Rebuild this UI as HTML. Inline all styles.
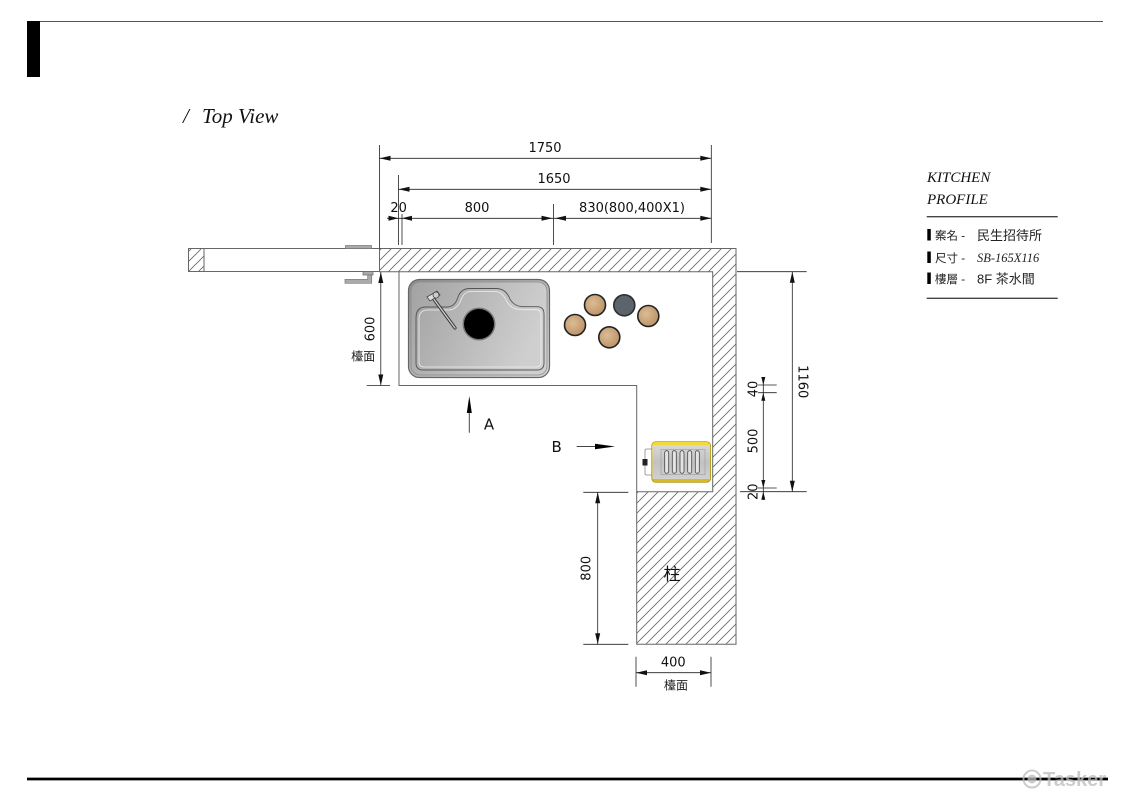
<!DOCTYPE html>
<html><head><meta charset="utf-8"><style>
html,body{margin:0;padding:0;background:#fff;}
svg{display:block;}
.d{font-family:"DejaVu Sans","Liberation Sans",sans-serif;font-size:13px;fill:#111;}
.cjk{font-family:"Liberation Sans","Noto Sans CJK TC",sans-serif;}
.ser{font-family:"Liberation Serif",serif;font-style:italic;}
</style></head><body>
<svg width="1131" height="800" viewBox="0 0 1131 800" xmlns="http://www.w3.org/2000/svg">
<defs>
<pattern id="h" patternUnits="userSpaceOnUse" width="10" height="10">
<path d="M0,10 L10,0 M-2,2 L2,-2 M8,12 L12,8" stroke="#666" stroke-width="0.8"/>
</pattern>
<linearGradient id="sg" x1="0" y1="0" x2="1" y2="1">
<stop offset="0" stop-color="#8e8e8e"/><stop offset="0.5" stop-color="#b4b4b4"/><stop offset="1" stop-color="#d6d6d6"/>
</linearGradient>
<linearGradient id="sg2" x1="0" y1="0" x2="1" y2="0.3">
<stop offset="0" stop-color="#a2a2a2"/><stop offset="1" stop-color="#cfcfcf"/>
</linearGradient>
<radialGradient id="cup" cx="0.4" cy="0.4" r="0.7">
<stop offset="0" stop-color="#dcbc94"/><stop offset="1" stop-color="#b88e62"/>
</radialGradient>
<linearGradient id="yl" x1="0" y1="0" x2="0" y2="1">
<stop offset="0" stop-color="#f4dc3a"/><stop offset="1" stop-color="#d9b81c"/>
</linearGradient>
<linearGradient id="gb" x1="0" y1="0" x2="0" y2="1">
<stop offset="0" stop-color="#d8d8d8"/><stop offset="0.5" stop-color="#c2c2c2"/><stop offset="1" stop-color="#d0d0d0"/>
</linearGradient>
</defs>

<!-- header -->
<rect x="27" y="21" width="13" height="56" fill="#000"/>
<line x1="40" y1="21.5" x2="1103" y2="21.5" stroke="#555" stroke-width="1"/>
<text x="183" y="123" class="ser" font-size="21" fill="#111">/</text>
<text x="202" y="123" class="ser" font-size="21" fill="#111">Top View</text>

<!-- footer -->
<line x1="27" y1="779" x2="1108" y2="779" stroke="#000" stroke-width="2.8"/>
<g opacity="0.75">
<circle cx="1032" cy="779" r="8.5" fill="none" stroke="#bbb" stroke-width="2"/>
<circle cx="1032" cy="779" r="4.5" fill="#bbb"/>
<text x="1043" y="786" font-family="Liberation Sans, sans-serif" font-weight="bold" font-size="20" fill="#bbb">Tasker</text>
</g>

<!-- left bar -->
<rect x="188.5" y="248.5" width="191" height="23" fill="#fff" stroke="#666" stroke-width="1"/>
<rect x="188.5" y="248.5" width="15.5" height="23" fill="url(#h)" stroke="#666" stroke-width="1"/>
<rect x="345.5" y="245.5" width="26" height="3" fill="#aaa" stroke="#777" stroke-width="0.7"/>
<rect x="363" y="271.5" width="10" height="3.5" fill="#aaa" stroke="#666" stroke-width="0.7"/>
<path d="M367.7,275 L371.7,275 L371.7,283.3 L345,283.3 L345,279.3 L367.7,279.3 Z" fill="#aaa" stroke="#777" stroke-width="0.7"/>

<!-- L counter hatch -->
<path d="M379.5,248.5 L736,248.5 L736,644.3 L636.7,644.3 L636.7,491.7 L712.7,491.7 L712.7,271.7 L379.5,271.7 Z" fill="url(#h)" stroke="#666" stroke-width="1"/>
<!-- inner area -->
<path d="M399,271.7 L399,385.5 L636.7,385.5 L636.7,491.7" fill="none" stroke="#666" stroke-width="1"/>

<!-- sink -->
<rect x="408.5" y="279.5" width="141" height="98" rx="11" fill="url(#sg)" stroke="#666" stroke-width="1.2"/>
<rect x="411" y="282" width="136" height="93" rx="9" fill="url(#sg2)" stroke="#8a8a8a" stroke-width="0.8"/>
<path d="M416,318 Q416,307 426,307 L447,307 Q455,307 458,297 Q461,288.5 470,288.5 L496,288.5 Q505,288.5 509,297 Q513,306.7 524,306.7 L537,306.7 Q544,306.7 544,314 L544,363 Q544,370 537,370 L423,370 Q416,370 416,363 Z" fill="none" stroke="#555" stroke-width="0.9"/>
<path d="M419,319 Q419,310 428,310 L448,310 Q457,310 461,300 Q464,291.5 471,291.5 L495,291.5 Q502,291.5 506,300 Q510,309.7 523,309.7 L536,309.7 Q541,309.7 541,315 L541,362 Q541,367 536,367 L424,367 Q419,367 419,362 Z" fill="none" stroke="#eee" stroke-width="0.8"/>
<circle cx="479" cy="324" r="16.5" fill="#777"/>
<circle cx="479" cy="324" r="15" fill="#000"/>
<line x1="433" y1="298" x2="455" y2="328" stroke="#333" stroke-width="3.2" stroke-linecap="round"/>
<line x1="433" y1="298" x2="455" y2="328" stroke="#ccc" stroke-width="1.4" stroke-linecap="round"/>
<path d="M427,297 L437,291 L440,295 L430,301 Z" fill="#ddd" stroke="#444" stroke-width="0.8"/>
<circle cx="436" cy="295" r="3" fill="#ccc" stroke="#444" stroke-width="0.8"/>

<!-- cups -->
<circle cx="595" cy="305" r="10.5" fill="url(#cup)" stroke="#222" stroke-width="1.6"/>
<circle cx="624.3" cy="305.3" r="10.5" fill="#5c636b" stroke="#2a2e33" stroke-width="1.6"/>
<circle cx="648.3" cy="316" r="10.5" fill="url(#cup)" stroke="#222" stroke-width="1.6"/>
<circle cx="575" cy="325" r="10.5" fill="url(#cup)" stroke="#222" stroke-width="1.6"/>
<circle cx="609.3" cy="337.3" r="10.5" fill="url(#cup)" stroke="#222" stroke-width="1.6"/>

<!-- appliance -->
<rect x="645" y="449" width="8" height="26" fill="#fff" stroke="#888" stroke-width="0.8" rx="1.5"/>
<rect x="642.5" y="459" width="5" height="6.5" fill="#222"/>
<rect x="651.7" y="441.7" width="59" height="40.6" rx="4" fill="url(#yl)" stroke="#a08a10" stroke-width="0.6"/>
<rect x="652.5" y="445" width="57.5" height="34" fill="url(#gb)"/>
<rect x="661" y="449.5" width="44" height="25" fill="none" stroke="#999" stroke-width="0.6"/>
<g fill="#e4e4e4" stroke="#444" stroke-width="0.8">
<rect x="664.7" y="450.7" width="4" height="22.6" rx="2"/>
<rect x="672.3" y="450.7" width="4" height="22.6" rx="2"/>
<rect x="680" y="450.7" width="4" height="22.6" rx="2"/>
<rect x="687.7" y="450.7" width="4" height="22.6" rx="2"/>
<rect x="695.3" y="450.7" width="4" height="22.6" rx="2"/>
</g>

<!-- pillar label -->
<text x="672" y="580" class="cjk" font-size="17" fill="#111" text-anchor="middle">柱</text>

<!-- A / B markers -->
<line x1="469.3" y1="405" x2="469.3" y2="432.7" stroke="#444" stroke-width="1"/>
<polygon points="469.3,396 466.8,413 471.8,413" fill="#000"/>
<text x="489" y="429.5" font-family="DejaVu Sans, sans-serif" font-size="15" fill="#111" text-anchor="middle">A</text>
<line x1="576.7" y1="446.5" x2="600" y2="446.5" stroke="#444" stroke-width="1"/>
<polygon points="615,446.5 595,443.8 595,449.2" fill="#000"/>
<text x="556.7" y="452" font-family="DejaVu Sans, sans-serif" font-size="15" fill="#111" text-anchor="middle">B</text>

<!-- ====== dimensions ====== -->
<g stroke="#222" stroke-width="0.8" fill="none">
<line x1="379.5" y1="145" x2="379.5" y2="248.5"/>
<line x1="398.5" y1="175" x2="398.5" y2="245"/>
<line x1="402" y1="214" x2="402" y2="245"/>
<line x1="553.5" y1="204" x2="553.5" y2="245"/>
<line x1="711.3" y1="145" x2="711.3" y2="243"/>
<line x1="379.5" y1="158.3" x2="711.3" y2="158.3"/>
<line x1="398.5" y1="189.3" x2="711.3" y2="189.3"/>
<line x1="387" y1="218.3" x2="711.3" y2="218.3"/>
<line x1="380.8" y1="272" x2="380.8" y2="385.5"/>
<line x1="366.7" y1="385.5" x2="390" y2="385.5"/>
<line x1="737" y1="271.7" x2="806.7" y2="271.7"/>
<line x1="740" y1="491.7" x2="806.7" y2="491.7"/>
<line x1="792.3" y1="271.7" x2="792.3" y2="491.7"/>
<line x1="763.3" y1="380" x2="763.3" y2="500"/>
<line x1="758" y1="385" x2="776.7" y2="385"/>
<line x1="758" y1="392.7" x2="776.7" y2="392.7"/>
<line x1="758" y1="488" x2="776.7" y2="488"/>
<line x1="583.3" y1="492.3" x2="628.3" y2="492.3"/>
<line x1="583.3" y1="644.3" x2="628.3" y2="644.3"/>
<line x1="597.7" y1="492.3" x2="597.7" y2="644.3"/>
<line x1="636" y1="656.7" x2="636" y2="686.7"/>
<line x1="711" y1="656.7" x2="711" y2="686.7"/>
<line x1="636" y1="672.7" x2="711" y2="672.7"/>
</g>
<g fill="#111">
<polygon points="379.5,158.3 390.5,155.8 390.5,160.8"/>
<polygon points="711.3,158.3 700.3,155.8 700.3,160.8"/>
<polygon points="398.5,189.3 409.5,186.8 409.5,191.8"/>
<polygon points="711.3,189.3 700.3,186.8 700.3,191.8"/>
<polygon points="398.5,218.3 388.5,215.8 388.5,220.8"/>
<polygon points="402,218.3 412,215.8 412,220.8"/>
<polygon points="552.5,218.3 541.5,215.8 541.5,220.8"/>
<polygon points="555,218.3 566,215.8 566,220.8"/>
<polygon points="711.3,218.3 700.3,215.8 700.3,220.8"/>
<polygon points="380.8,272 378.3,283 383.3,283"/>
<polygon points="380.8,385.5 378.3,374.5 383.3,374.5"/>
<polygon points="792.3,271.7 789.8,282.7 794.8,282.7"/>
<polygon points="792.3,491.7 789.8,480.7 794.8,480.7"/>
<polygon points="763.3,385 761.3,377 765.3,377"/>
<polygon points="763.3,392.7 761.3,400.7 765.3,400.7"/>
<polygon points="763.3,488 761.3,480 765.3,480"/>
<polygon points="763.3,491.7 761.3,499.7 765.3,499.7"/>
<polygon points="597.7,492.3 595.2,503.3 600.2,503.3"/>
<polygon points="597.7,644.3 595.2,633.3 600.2,633.3"/>
<polygon points="636,672.7 647,670.2 647,675.2"/>
<polygon points="711,672.7 700,670.2 700,675.2"/>
</g>

<!-- dimension texts -->
<text x="545" y="152" class="d" text-anchor="middle">1750</text>
<text x="554" y="183" class="d" text-anchor="middle">1650</text>
<text x="398.6" y="212" class="d" text-anchor="middle">20</text>
<text x="477" y="212" class="d" text-anchor="middle">800</text>
<text x="632" y="212" class="d" text-anchor="middle">830(800,400X1)</text>
<text x="673.3" y="666.5" class="d" text-anchor="middle">400</text>
<text x="676" y="689.5" class="cjk" font-size="12" fill="#222" text-anchor="middle">檯面</text>
<text x="363.3" y="360.5" class="cjk" font-size="12" fill="#222" text-anchor="middle">檯面</text>
<text transform="translate(374.5,329) rotate(-90)" class="d" text-anchor="middle">600</text>
<text transform="translate(590.5,568.3) rotate(-90)" class="d" text-anchor="middle">800</text>
<text transform="translate(757.5,389) rotate(-90)" class="d" text-anchor="middle">40</text>
<text transform="translate(757.5,441) rotate(-90)" class="d" text-anchor="middle">500</text>
<text transform="translate(757.5,491.7) rotate(-90)" class="d" text-anchor="middle">20</text>
<text transform="translate(798.5,381.7) rotate(90)" class="d" text-anchor="middle">1160</text>

<!-- kitchen profile -->
<text x="927" y="182" class="ser" font-size="15" fill="#111">KITCHEN</text>
<text x="927" y="204" class="ser" font-size="15" fill="#111">PROFILE</text>
<line x1="926.7" y1="216.7" x2="1057.7" y2="216.7" stroke="#444" stroke-width="1.3"/>
<line x1="926.7" y1="298.3" x2="1057.7" y2="298.3" stroke="#444" stroke-width="1.3"/>
<rect x="927.3" y="229" width="3.5" height="11.5" fill="#000"/>
<rect x="927.3" y="251.5" width="3.5" height="11.5" fill="#000"/>
<rect x="927.3" y="272.5" width="3.5" height="11.5" fill="#000"/>
<text x="935" y="239.5" class="cjk" font-size="11.5" fill="#222">案名 -</text>
<text x="935" y="262" class="cjk" font-size="11.5" fill="#222">尺寸 -</text>
<text x="935" y="283" class="cjk" font-size="11.5" fill="#222">樓層 -</text>
<text x="977" y="240" class="cjk" font-size="13" fill="#222">民生招待所</text>
<text x="977" y="262" class="ser" font-size="12.5" fill="#222">SB-165X116</text>
<text x="977" y="283.5" class="cjk" font-size="13" fill="#222">8F 茶水間</text>
</svg>
</body></html>
